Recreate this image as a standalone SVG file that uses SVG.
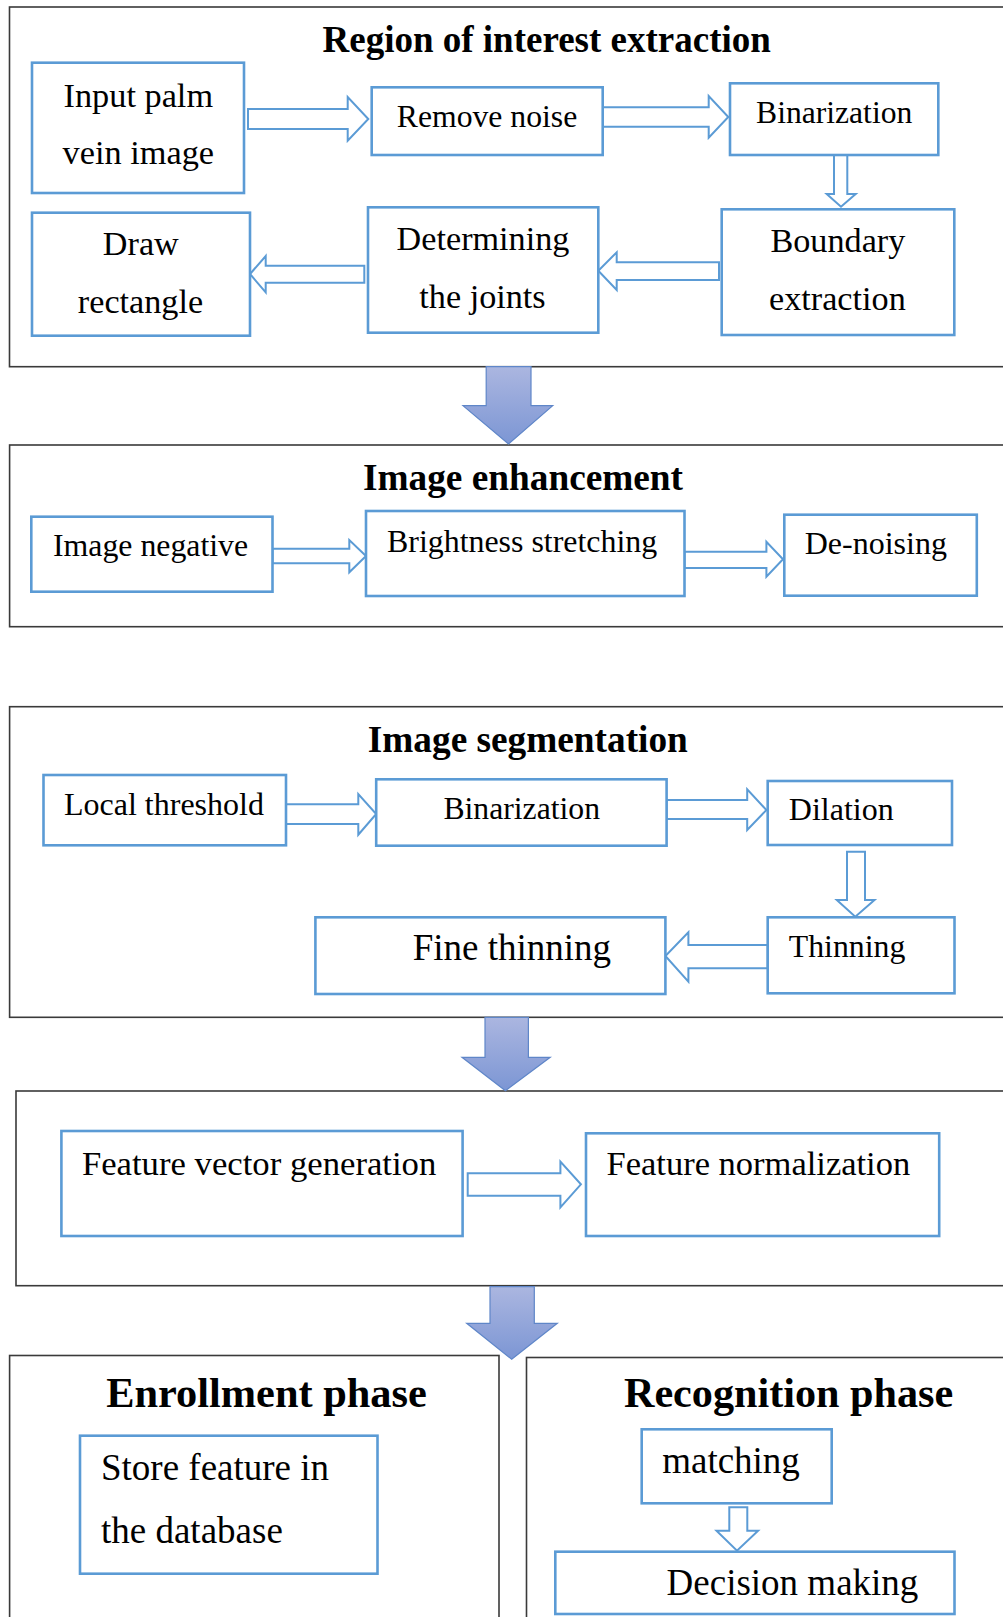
<svg xmlns="http://www.w3.org/2000/svg" width="1003" height="1617" viewBox="0 0 1003 1617">
  <style>
    .panel { fill: #ffffff; stroke: #3a3a3a; stroke-width: 1.6; }
    .box { fill: #ffffff; stroke: #5b9bd5; stroke-width: 2.6; }
    .hollow { fill: #ffffff; stroke: #5b9bd5; stroke-width: 2; stroke-linejoin: miter; }
    .big { fill: url(#bigGrad); stroke: #5f86c8; stroke-width: 1.2; }
    .title { font-family: "Liberation Serif", "Times New Roman", serif; font-weight: bold; fill: #000; }
    .lbl { font-family: "Liberation Serif", "Times New Roman", serif; fill: #000; }
    .mid { text-anchor: middle; }
  </style>
  <defs>
    <linearGradient id="bigGrad" x1="0" y1="0" x2="0" y2="1">
      <stop offset="0" stop-color="#abb6e0"/>
      <stop offset="1" stop-color="#7c96d4"/>
    </linearGradient>
  </defs>

  <rect width="1003" height="1617" fill="#ffffff"/>

  <!-- stage panels -->
  <g id="panels">
    <rect class="panel" x="9.5" y="7" width="1010" height="359.7"/>
    <rect class="panel" x="9.6" y="445" width="1010" height="181.7"/>
    <rect class="panel" x="9.6" y="706.7" width="1010" height="310.6"/>
    <rect class="panel" x="16" y="1091" width="1010" height="194.7"/>
    <rect class="panel" x="9.6" y="1355.5" width="489.4" height="280"/>
    <rect class="panel" x="526.5" y="1357.5" width="500" height="280"/>
  </g>

  <!-- panel headings -->
  <g id="headings">
    <text class="title mid" x="546.7" y="51.7" font-size="37">Region of interest extraction</text>
    <text class="title mid" x="523" y="490" font-size="37.3">Image enhancement</text>
    <text class="title mid" x="527.8" y="751.7" font-size="37.3">Image segmentation</text>
    <text class="title mid" x="266.5" y="1406.7" font-size="42.4">Enrollment phase</text>
    <text class="title mid" x="788.6" y="1406.7" font-size="42.2">Recognition phase</text>
  </g>

  <!-- connectors -->
  <g id="connectors">
    <!-- region of interest extraction -->
    <polygon class="hollow" points="248,109 347.7,109 347.7,97 368.3,119 347.7,140.7 347.7,129 248,129"/>
    <polygon class="hollow" points="602.7,107.3 708.7,107.3 708.7,96 728.3,117 708.7,137.7 708.7,126.7 602.7,126.7"/>
    <polygon class="hollow" points="834,155 847.3,155 847.3,194 855.7,194 841,206.7 826.7,194 834,194"/>
    <polygon class="hollow" points="719,262.3 616.7,262.3 616.7,252.3 598.3,270.7 616.7,290 616.7,280 719,280"/>
    <polygon class="hollow" points="364.3,265.7 265.7,265.7 265.7,256 250,274 265.7,292.3 265.7,282.7 364.3,282.7"/>
    <!-- image enhancement -->
    <polygon class="hollow" points="272.5,548.7 349.3,548.7 349.3,540 366,556 349.3,572.3 349.3,563.3 272.5,563.3"/>
    <polygon class="hollow" points="684.5,551.7 766.4,551.7 766.4,541.7 783,559.3 766.4,576.7 766.4,568 684.5,568"/>
    <!-- image segmentation -->
    <polygon class="hollow" points="286,804.3 358.3,804.3 358.3,794 376.2,814 358.3,834.7 358.3,824 286,824"/>
    <polygon class="hollow" points="666.6,800 747.2,800 747.2,789.3 766.4,810 747.2,830 747.2,819 666.6,819"/>
    <polygon class="hollow" points="847,851.7 865,851.7 865,900 874.5,900 855.3,916.7 836.8,900 847,900"/>
    <polygon class="hollow" points="767.7,945 688.4,945 688.4,932.3 665.4,956 688.4,981.7 688.4,968.3 767.7,968.3"/>
    <!-- feature stage -->
    <polygon class="hollow" points="467.7,1173.3 560.4,1173.3 560.4,1161.7 580.9,1184.3 560.4,1207.3 560.4,1195.7 467.7,1195.7"/>
    <!-- recognition -->
    <polygon class="hollow" points="729.3,1507.3 747.3,1507.3 747.3,1530.7 758.1,1530.7 737,1550.7 716.5,1530.7 729.3,1530.7"/>
    <!-- stage-to-stage block arrows -->
    <polygon class="big" points="486.2,366.7 531,366.7 531,405.7 552.7,405.7 508.5,444 463,405.7 486.2,405.7"/>
    <polygon class="big" points="485,1017.3 528.4,1017.3 528.4,1057.3 550.2,1057.3 505.4,1090.7 462,1057.3 485,1057.3"/>
    <polygon class="big" points="490,1286.7 534.3,1286.7 534.3,1323.3 557.3,1323.3 511.7,1359.3 466.7,1323.3 490,1323.3"/>
  </g>

  <!-- region of interest extraction -->
  <g id="input-image">
    <rect class="box" x="32" y="62.7" width="212" height="130.3"/>
    <text class="lbl mid" x="138.3" y="106.7" font-size="34.3">Input palm</text>
    <text class="lbl mid" x="138.3" y="164" font-size="34.3">vein image</text>
  </g>
  <g id="remove-noise">
    <rect class="box" x="371.7" y="87.3" width="231" height="67.7"/>
    <text class="lbl mid" x="487" y="126.7" font-size="31.7">Remove noise</text>
  </g>
  <g id="binarization-roi">
    <rect class="box" x="730" y="83.3" width="208.3" height="71.7"/>
    <text class="lbl mid" x="834.2" y="123.3" font-size="31.6">Binarization</text>
  </g>
  <g id="boundary-extraction">
    <rect class="box" x="721.7" y="209.3" width="232.6" height="125.7"/>
    <text class="lbl mid" x="837.9" y="251.7" font-size="34.2">Boundary</text>
    <text class="lbl mid" x="837.4" y="310" font-size="34.2">extraction</text>
  </g>
  <g id="determining-joints">
    <rect class="box" x="368" y="207.3" width="230.3" height="125.4"/>
    <text class="lbl mid" x="483" y="250" font-size="34.2">Determining</text>
    <text class="lbl mid" x="482.5" y="308.3" font-size="34.2">the joints</text>
  </g>
  <g id="draw-rectangle">
    <rect class="box" x="32" y="212.7" width="218" height="123"/>
    <text class="lbl mid" x="140.8" y="255" font-size="34.2">Draw</text>
    <text class="lbl mid" x="140.5" y="313.3" font-size="34.2">rectangle</text>
  </g>

  <!-- image enhancement -->
  <g id="image-negative">
    <rect class="box" x="31.3" y="516.7" width="241.2" height="75"/>
    <text class="lbl" x="53" y="556" font-size="31.8">Image negative</text>
  </g>
  <g id="brightness-stretching">
    <rect class="box" x="366" y="511" width="318.5" height="85"/>
    <text class="lbl" x="387" y="551.7" font-size="31.9">Brightness stretching</text>
  </g>
  <g id="de-noising">
    <rect class="box" x="784.3" y="514.7" width="192.5" height="81"/>
    <text class="lbl" x="804.7" y="554.3" font-size="32">De-noising</text>
  </g>

  <!-- image segmentation -->
  <g id="local-threshold">
    <rect class="box" x="43.5" y="775" width="242.5" height="70.3"/>
    <text class="lbl" x="64" y="815" font-size="32">Local threshold</text>
  </g>
  <g id="binarization-seg">
    <rect class="box" x="376.2" y="779.3" width="290.4" height="66.4"/>
    <text class="lbl" x="443.4" y="819" font-size="31.7">Binarization</text>
  </g>
  <g id="dilation">
    <rect class="box" x="767.7" y="781" width="184.3" height="64"/>
    <text class="lbl" x="788.8" y="820" font-size="32">Dilation</text>
  </g>
  <g id="thinning">
    <rect class="box" x="767.7" y="917.3" width="186.8" height="76"/>
    <text class="lbl" x="788.8" y="957.3" font-size="31.8">Thinning</text>
  </g>
  <g id="fine-thinning">
    <rect class="box" x="315.4" y="917.3" width="350" height="76.7"/>
    <text class="lbl" x="412.7" y="960" font-size="37">Fine thinning</text>
  </g>

  <!-- feature stage -->
  <g id="feature-vector">
    <rect class="box" x="61.4" y="1131" width="401.2" height="105"/>
    <text class="lbl" x="81.9" y="1175" font-size="34.7">Feature vector generation</text>
  </g>
  <g id="feature-normalization">
    <rect class="box" x="586" y="1133.3" width="353.2" height="102.7"/>
    <text class="lbl" x="606.5" y="1175" font-size="34.5">Feature normalization</text>
  </g>

  <!-- enrollment phase -->
  <g id="store-feature">
    <rect class="box" x="80" y="1435.7" width="297.5" height="138"/>
    <text class="lbl" x="101" y="1480" font-size="37">Store feature in</text>
    <text class="lbl" x="101" y="1542.7" font-size="37">the database</text>
  </g>

  <!-- recognition phase -->
  <g id="matching">
    <rect class="box" x="641.7" y="1429.3" width="190" height="74"/>
    <text class="lbl" x="662.2" y="1473.3" font-size="37">matching</text>
  </g>
  <g id="decision-making">
    <rect class="box" x="555.3" y="1551.7" width="399.2" height="62.3"/>
    <text class="lbl" x="666.6" y="1595" font-size="37">Decision making</text>
  </g>
</svg>
